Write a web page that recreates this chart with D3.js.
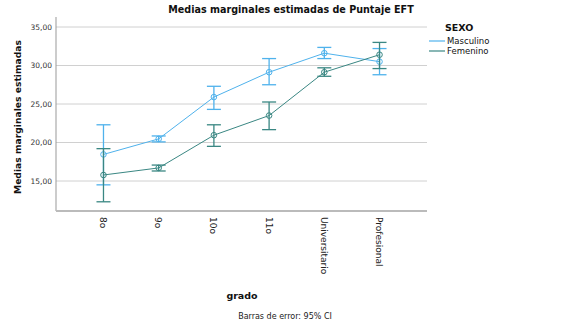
<!DOCTYPE html>
<html>
<head>
<meta charset="utf-8">
<script src="https://cdn.jsdelivr.net/npm/d3@7"></script>
<style>
  body { margin: 0; background: #fff; }
  text { font-family: "DejaVu Sans", sans-serif; }
</style>
</head>
<body>
<div id="chart"></div>
<script>
var categories = ["8o", "9o", "10o", "11o", "Universitario", "Profesional"];
var series = ["Masculino", "Femenino"];
var masculinoMean = [18.45, 20.47, 25.9, 29.13, 31.6, 30.5];
var masculinoLow = [14.5, 20.08, 24.3, 27.5, 30.9, 28.8];
var masculinoHigh = [22.3, 20.85, 27.3, 30.9, 32.35, 32.2];
var femeninoMean = [15.78, 16.7, 20.95, 23.5, 29.13, 31.4];
var femeninoLow = [12.3, 16.3, 19.5, 21.67, 28.6, 29.6];
var femeninoHigh = [19.2, 17.07, 22.3, 25.26, 29.7, 33.0];
var yTicks = [15, 20, 25, 30, 35];

var width = 570, height = 327;
var colors = { Masculino: "#4fb2ec", Femenino: "#3a8783" };

var svg = d3.select("#chart").append("svg")
  .attr("width", width).attr("height", height);

var x = d3.scalePoint().domain(categories).range([56, 427]).padding(0.86);
var y = d3.scaleLinear().domain([15, 35]).range([181, 27]);

// gridlines
svg.selectAll(".grid").data(yTicks).enter().append("line")
  .attr("x1", 56).attr("x2", 427)
  .attr("y1", function (d) { return y(d); })
  .attr("y2", function (d) { return y(d); })
  .style("stroke", "#d0d0d0").style("stroke-width", 1);

// y axis
var yAxis = svg.append("g").attr("transform", "translate(56,0)")
  .call(d3.axisLeft(y).tickValues(yTicks).tickSize(0).tickPadding(4)
    .tickFormat(function (d) { return d3.format(".2f")(d).replace(".", ","); }));
yAxis.select(".domain").remove();
yAxis.selectAll("text").style("font-size", "7.5px").style("fill", "#333")
  .style("font-family", "DejaVu Sans, sans-serif");
svg.append("line").attr("x1", 56).attr("x2", 56).attr("y1", 17).attr("y2", 211)
  .style("stroke", "#999").style("stroke-width", 1);

// x axis
svg.append("line").attr("x1", 56).attr("x2", 427).attr("y1", 211).attr("y2", 211)
  .style("stroke", "#bbb").style("stroke-width", 2);
svg.selectAll(".xlab").data(categories).enter().append("text")
  .attr("transform", function (d) { return "translate(" + (x(d) - 3.5) + ",217) rotate(90)"; })
  .attr("text-anchor", "start")
  .style("font-size", "9px").style("fill", "#222")
  .text(function (d) { return d; });

// series
var data = [
  { name: "Masculino", mean: masculinoMean, low: masculinoLow, high: masculinoHigh },
  { name: "Femenino", mean: femeninoMean, low: femeninoLow, high: femeninoHigh }
];

var line = d3.line()
  .x(function (d) { return x(d.cat); })
  .y(function (d) { return y(d.v); });

data.forEach(function (s) {
  var pts = categories.map(function (c, i) {
    return { cat: c, v: s.mean[i], lo: s.low[i], hi: s.high[i] };
  });
  var col = colors[s.name];
  var g = svg.append("g");
  g.append("path").datum(pts).attr("d", line)
    .style("fill", "none").style("stroke", col).style("stroke-width", 1);
  g.selectAll(".eb").data(pts).enter().append("line")
    .attr("x1", function (d) { return x(d.cat); })
    .attr("x2", function (d) { return x(d.cat); })
    .attr("y1", function (d) { return y(d.lo); })
    .attr("y2", function (d) { return y(d.hi); })
    .style("stroke", col).style("stroke-width", 1.3);
  ["lo", "hi"].forEach(function (k) {
    g.selectAll(".cap" + k).data(pts).enter().append("line")
      .attr("x1", function (d) { return x(d.cat) - 7; })
      .attr("x2", function (d) { return x(d.cat) + 7; })
      .attr("y1", function (d) { return y(d[k]); })
      .attr("y2", function (d) { return y(d[k]); })
      .style("stroke", col).style("stroke-width", 1.3);
  });
  g.selectAll(".pt").data(pts).enter().append("circle")
    .attr("cx", function (d) { return x(d.cat); })
    .attr("cy", function (d) { return y(d.v); })
    .attr("r", 2.8)
    .style("fill", "none").style("stroke", col).style("stroke-width", 1);
});

// title and labels
svg.append("text").attr("x", 291).attr("y", 13).attr("text-anchor", "middle")
  .style("font-size", "9.6px").style("font-weight", "bold").style("fill", "#111")
  .text("Medias marginales estimadas de Puntaje EFT");
svg.append("text").attr("transform", "translate(21,117) rotate(-90)")
  .attr("text-anchor", "middle")
  .style("font-size", "9.2px").style("font-weight", "bold").style("fill", "#111")
  .text("Medias marginales estimadas");
svg.append("text").attr("x", 242).attr("y", 299).attr("text-anchor", "middle")
  .style("font-size", "9.5px").style("font-weight", "bold").style("fill", "#111")
  .text("grado");
svg.append("text").attr("x", 285).attr("y", 319).attr("text-anchor", "middle")
  .style("font-size", "8px").style("fill", "#222")
  .text("Barras de error: 95% CI");

// legend
svg.append("text").attr("x", 445).attr("y", 31)
  .style("font-size", "9.5px").style("font-weight", "bold").style("fill", "#111")
  .text("SEXO");
series.forEach(function (s, i) {
  var yy = 41 + i * 10;
  svg.append("line").attr("x1", 429).attr("x2", 445).attr("y1", yy).attr("y2", yy)
    .style("stroke", colors[s]).style("stroke-width", 1.2);
  svg.append("text").attr("x", 447).attr("y", yy + 3)
    .style("font-size", "8.5px").style("fill", "#111").text(s);
});
</script>
</body>
</html>
